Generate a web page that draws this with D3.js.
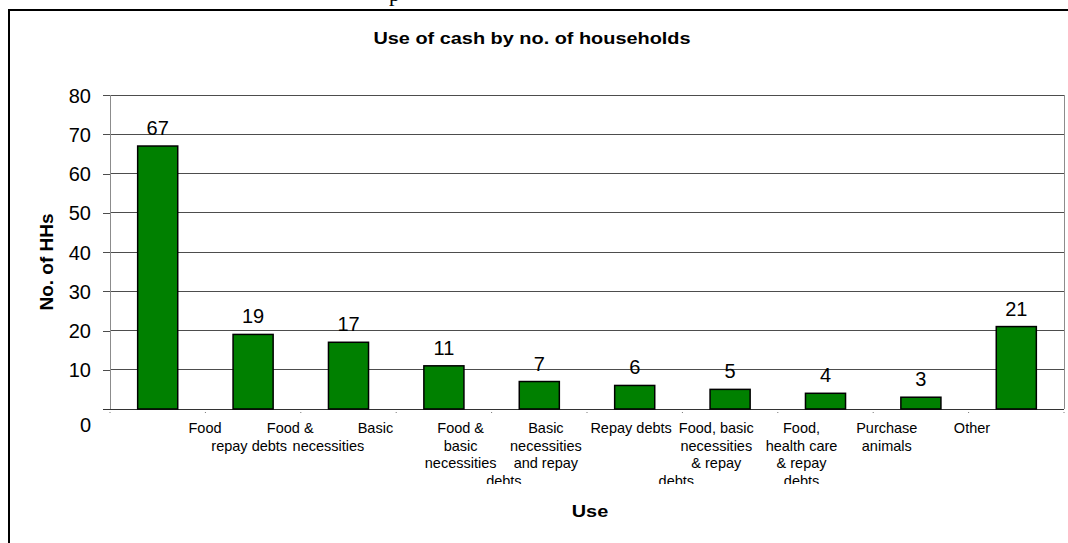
<!DOCTYPE html>
<html>
<head>
<meta charset="utf-8">
<style>
    body { margin: 0; background: #fff; }
    svg { display: block; font-family: Arial, 'Liberation Sans', sans-serif; }
    .grid line { stroke: #4d4d4d; shape-rendering: crispEdges; }
    .y .tick text { font-size: 20px; fill: #000; }
    .y .tick line { stroke: #4d4d4d; shape-rendering: crispEdges; }
    .cat { font-size: 14.5px; fill: #000; }
    .value { font-size: 20px; fill: #000; }
    .title { font-size: 17px; font-weight: bold; }
</style>
</head>
<body>
<svg width="1068" height="543"></svg>
<script src="https://d3js.org/d3.v7.min.js"></script>
<script>
    // data
    let categories = [
        "Food",
        "Food &\nrepay debts",
        "Basic\nnecessities",
        "Food &\nbasic\nnecessities",
        "Basic\nnecessities\nand repay\ndebts",
        "Repay debts",
        "Food, basic\nnecessities\n& repay\ndebts",
        "Food,\nhealth care\n& repay\ndebts",
        "Purchase\nanimals",
        "Other"
    ]
    let households = [67, 19, 17, 11, 7, 6, 5, 4, 3, 21]
    let yTicks = [0, 10, 20, 30, 40, 50, 60, 70, 80]

    // the original's wrapped labels slip sideways on some lines
    let lineShift = { "1-1": -41, "2-1": -47, "4-3": -42, "6-3": -40 }

    let svg = d3.select("svg")
    let margin = { top: 95, right: 4, bottom: 134, left: 110 }
    let width = 1068
    let height = 543

    // outer frame (left + top edges only visible)
    svg.append("path")
        .attr("d", `M9,543 V10 H1068`)
        .attr("fill", "none")
        .attr("stroke", "#000")
        .attr("stroke-width", 2)

    // fragment of the page text above the chart
    svg.append("text")
        .attr("x", 389).attr("y", 1)
        .style("font-family", "'Liberation Serif', serif")
        .style("font-size", "22px")
        .text("p")

    let x = d3.scaleBand()
        .domain(categories)
        .range([margin.left, width - margin.right])
        .paddingInner(0.58)
        .paddingOuter(0.29)

    let y = d3.scaleLinear()
        .domain([0, 80])
        .range([height - margin.bottom, margin.top])

    let labelX = d3.scalePoint()
        .domain(categories)
        .range([205, 972])

    // gridlines
    svg.append("g")
        .attr("class", "grid")
        .selectAll("line")
        .data(yTicks.filter(d => d > 0))
        .join("line")
        .attr("x1", margin.left)
        .attr("x2", width - margin.right)
        .attr("y1", d => y(d))
        .attr("y2", d => y(d))

    // plot area right edge
    svg.append("line")
        .attr("x1", width - margin.right).attr("x2", width - margin.right)
        .attr("y1", y(80)).attr("y2", y(0))
        .attr("stroke", "#8c8c8c")
        .style("shape-rendering", "crispEdges")

    // y axis
    let yAxis = svg.append("g")
        .attr("class", "y axis")
        .attr("transform", `translate(${margin.left},0)`)
        .call(d3.axisLeft(y).tickValues(yTicks).tickSize(7).tickPadding(12))
    yAxis.select(".domain").attr("stroke", "#8c8c8c").style("shape-rendering", "crispEdges")
    yAxis.selectAll(".tick text")
        .attr("dy", d => d == 0 ? "1.1em" : "0.35em")

    // baseline
    svg.append("line")
        .attr("x1", margin.left - 7).attr("x2", width - margin.right)
        .attr("y1", y(0)).attr("y2", y(0))
        .attr("stroke", "#333")
        .style("shape-rendering", "crispEdges")

    // small x tick marks at the band edges
    let edges = categories.map((c, i) => margin.left + i * x.step())
    edges.push(width - margin.right)
    svg.append("g")
        .selectAll("rect")
        .data(edges)
        .join("rect")
        .attr("x", d => d - 0.5)
        .attr("y", y(0) + 3)
        .attr("width", 1)
        .attr("height", 1)
        .attr("fill", "#777")

    // bars
    svg.append("g")
        .selectAll("rect")
        .data(households)
        .join("rect")
        .attr("x", (d, i) => x(categories[i]))
        .attr("y", d => y(d))
        .attr("width", x.bandwidth())
        .attr("height", d => y(0) - y(d))
        .attr("fill", "#008000")
        .attr("stroke", "#000")
        .attr("stroke-width", 1.5)

    // value labels
    svg.append("g")
        .selectAll("text")
        .data(households)
        .join("text")
        .attr("class", "value")
        .attr("x", (d, i) => x(categories[i]) + x.bandwidth() / 2)
        .attr("y", d => y(d) - 11)
        .attr("text-anchor", "middle")
        .text(d => d)

    // category labels, clipped at the bottom like the original
    svg.append("clipPath").attr("id", "catclip")
        .append("rect").attr("x", 0).attr("y", 0).attr("width", width).attr("height", 484)

    let cats = svg.append("g").attr("clip-path", "url(#catclip)")
    categories.forEach((c, i) => {
        let t = cats.append("text")
            .attr("class", "cat")
            .attr("text-anchor", "middle")
            .attr("y", 433)
        c.split("\n").forEach((line, j) => {
            t.append("tspan")
                .attr("x", labelX(c) + (lineShift[i + "-" + j] || 0))
                .attr("dy", j == 0 ? 0 : 17.5)
                .text(line)
        })
    })

    // titles (the original is a little stretched sideways)
    function stretched(txt, cx, cy, rotate) {
        let g = svg.append("g")
            .attr("transform", `translate(${cx},${cy})` + (rotate ? " rotate(-90)" : "") + " scale(1.17,1)")
        g.append("text")
            .attr("class", "title")
            .attr("text-anchor", "middle")
            .text(txt)
    }
    stretched("Use of cash by no. of households", 532, 44)
    stretched("Use", 590, 517)

    svg.append("text")
        .attr("class", "title")
        .attr("transform", "translate(53,262) rotate(-90)")
        .attr("text-anchor", "middle")
        .style("font-size", "19px")
        .text("No. of HHs")
</script>
</body>
</html>
